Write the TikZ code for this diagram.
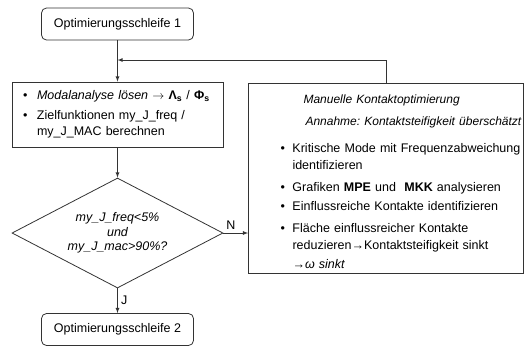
\documentclass[tikz,border=0pt]{standalone}
\usepackage{fontspec}
\setmainfont{Liberation Sans}
\usepackage{tikz}
\usetikzlibrary{arrows,shapes.geometric}
\frenchspacing

\tikzset{
  loopbox/.style={rectangle,rounded corners=5pt,draw=black!80,minimum width=152pt,minimum height=32pt,inner sep=2pt},
  taskbox/.style={rectangle,draw=black!80,inner sep=2pt,align=left},
  testbox/.style={diamond,draw=black!80,aspect=2,inner sep=1pt,minimum width=211pt,minimum height=110pt,align=center,font=\itshape\fontsize{12.5}{14.5}\selectfont},
  flow/.style={->,>=latex,draw=black!80}
}

\begin{document}
\begin{tikzpicture}[x=1pt,y=-1pt,line width=0.8pt,font=\fontsize{12.5}{16.5}\selectfont]
  \useasboundingbox (0,0) rectangle (526,346);
  \node[loopbox](start) at (117.5,24){Optimierungsschleife 1};
  \node[taskbox,text width=207pt,minimum height=65pt](modal) at (117.5,114.5){%
    \begin{tabular}{@{\hspace{9pt}}p{14pt}@{}l@{}}
      \textbullet & \textit{Modalanalyse lösen} $\rightarrow$ \textbf{Λ}\textsubscript{\textbf{s}} / \textbf{Φ}\textsubscript{\textbf{s}}\\[3pt]
      \textbullet & Zielfunktionen my\_J\_freq /\\
      & my\_J\_MAC berechnen
    \end{tabular}};
  \node[testbox](check) at (117.5,233){my\_J\_freq<5\%\\und\\my\_J\_mac>90\%?};
  \node[loopbox](stop) at (117.5,329.5){Optimierungsschleife 2};
  \node[taskbox,text width=271pt,minimum height=190pt,font=\fontsize{12.5}{17}\selectfont](manual) at (386,178){%
    \raisebox{-5pt}[\height][\depth]{%
    \begin{tabular}{@{\hspace{30pt}}p{12pt}@{}l@{}}
      \multicolumn{2}{@{\hspace{53pt}}l@{}}{\fontsize{12}{17}\selectfont\textit{Manuelle Kontaktoptimierung}}\\[5pt]
      \multicolumn{2}{@{\hspace{55pt}}l@{}}{\fontsize{12}{17}\selectfont\textit{Annahme: Kontaktsteifigkeit überschätzt}}\\[10pt]
      \textbullet & Kritische Mode mit Frequenzabweichung\\
      & identifizieren\\[5pt]
      \textbullet & Grafiken \textbf{MPE} und \ \textbf{MKK} analysieren\\[2pt]
      \textbullet & Einflussreiche Kontakte identifizieren\\[5pt]
      \textbullet & Fläche einflussreicher Kontakte\\
      & reduzieren→Kontaktsteifigkeit sinkt\\[2pt]
      & \textit{→ω sinkt}
    \end{tabular}}};
  \coordinate (back) at (117.5,60);

  \draw[flow] (start) -- (modal);
  \draw[flow] (modal) -- (check);
  \draw[flow] (check) -- node[right]{J} (stop);
  \draw[flow] (check.east) -- node[above,pos=0.3]{N} (check.east -| manual.west);
  \draw[flow] (manual.north) |- (back);
\end{tikzpicture}
\end{document}
